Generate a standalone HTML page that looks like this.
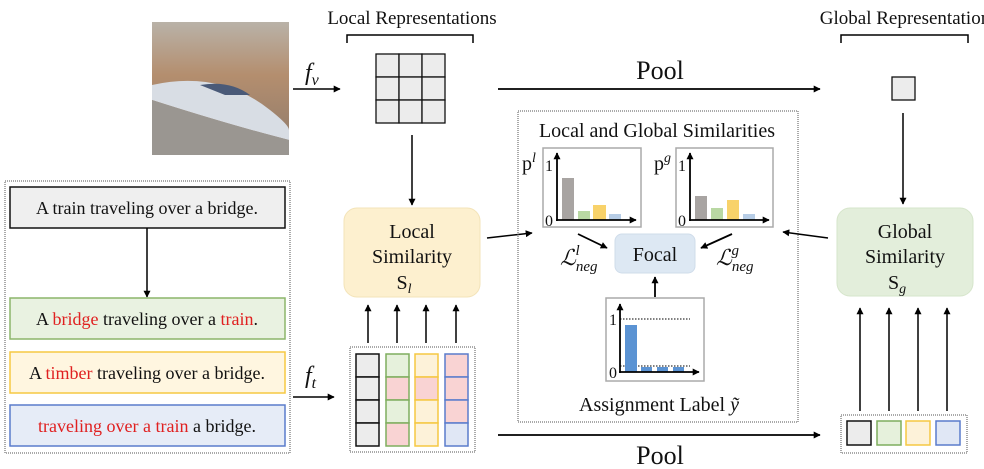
<!DOCTYPE html>
<html><head><meta charset="utf-8"><style>body{margin:0;background:#fff}svg{display:block}text{font-family:"Liberation Serif",serif;fill:#111}</style></head>
<body>
<svg width="984" height="469" viewBox="0 0 984 469" xmlns="http://www.w3.org/2000/svg">
<defs>
<marker id="a" viewBox="0 0 10 10" refX="9" refY="5" markerWidth="7" markerHeight="7" orient="auto-start-reverse" markerUnits="userSpaceOnUse"><path d="M0,0L10,5L0,10z" fill="#000"/></marker>
<linearGradient id="sky" x1="0" y1="0" x2="0" y2="1"><stop offset="0" stop-color="#b9b2a8"/><stop offset="0.4" stop-color="#b48e6e"/><stop offset="1" stop-color="#8c7a6c"/></linearGradient>
</defs>
<rect x="152" y="22" width="137" height="133" fill="url(#sky)"/>
<path d="M152,85 Q220,70 270,110 Q289,125 289,130 L289,140 Q230,125 152,100z" fill="#d8dde4"/>
<path d="M152,100 Q230,125 289,140 L289,155 L152,155z" fill="#9a9691"/>
<path d="M200,85 Q230,80 250,95 L225,95z" fill="#4a5a78"/>
<rect x="5" y="181" width="285" height="272" fill="none" stroke="#555" stroke-dasharray="1,1"/>
<rect x="10" y="187" width="275" height="41" fill="#efefef" stroke="#111" stroke-width="1.5"/>
<text x="147" y="214" font-size="18" text-anchor="middle">A train traveling over a bridge.</text>
<line x1="147" y1="228" x2="147" y2="297" stroke="#000" stroke-width="1.5" marker-end="url(#a)"/>
<rect x="10" y="298" width="275" height="41" fill="#e9f2e1" stroke="#8cb56a" stroke-width="1.5"/>
<text x="147" y="325" font-size="18" text-anchor="middle">A <tspan fill="#e02020">bridge</tspan> traveling over a <tspan fill="#e02020">train</tspan>.</text>
<rect x="10" y="352" width="275" height="41" fill="#fff6e0" stroke="#f5c842" stroke-width="1.5"/>
<text x="147" y="379" font-size="18" text-anchor="middle">A <tspan fill="#e02020">timber</tspan> traveling over a bridge.</text>
<rect x="10" y="405" width="275" height="41" fill="#e6ecf7" stroke="#5a7ccc" stroke-width="1.5"/>
<text x="147" y="432" font-size="18" text-anchor="middle"><tspan fill="#e02020">traveling over a train</tspan> a bridge.</text>
<text x="305" y="80" font-size="24" font-style="italic">f<tspan font-size="16" dy="5">v</tspan></text>
<line x1="293" y1="89" x2="340" y2="89" stroke="#000" stroke-width="1.5" marker-end="url(#a)"/>
<text x="305" y="383" font-size="24" font-style="italic">f<tspan font-size="16" dy="5">t</tspan></text>
<line x1="293" y1="397" x2="334" y2="397" stroke="#000" stroke-width="1.5" marker-end="url(#a)"/>
<text x="412" y="24" font-size="19" text-anchor="middle">Local Representations</text>
<path d="M347,43V35H473V43" fill="none" stroke="#000" stroke-width="1.5"/>
<g fill="#ececec" stroke="#111" stroke-width="1.3">
<rect x="376" y="54" width="23" height="23"/><rect x="399" y="54" width="23" height="23"/><rect x="422" y="54" width="23" height="23"/>
<rect x="376" y="77" width="23" height="23"/><rect x="399" y="77" width="23" height="23"/><rect x="422" y="77" width="23" height="23"/>
<rect x="376" y="100" width="23" height="23"/><rect x="399" y="100" width="23" height="23"/><rect x="422" y="100" width="23" height="23"/>
</g>
<line x1="412" y1="135" x2="412" y2="205" stroke="#000" stroke-width="1.5" marker-end="url(#a)"/>
<rect x="344" y="208" width="136" height="89" rx="13" fill="#fdf0cf" stroke="#f3e3b8"/>
<text x="412" y="238" font-size="20" text-anchor="middle">Local</text>
<text x="412" y="263" font-size="20" text-anchor="middle">Similarity</text>
<text x="404" y="289" font-size="20" text-anchor="middle">S<tspan font-style="italic" font-size="14" dy="4">l</tspan></text>
<line x1="487" y1="238" x2="532" y2="233" stroke="#000" stroke-width="1.5" marker-end="url(#a)"/>
<rect x="350" y="347" width="125" height="105" fill="none" stroke="#555" stroke-dasharray="1,1"/>
<g stroke-width="1.5">
<g stroke="#111"><rect x="356" y="354" width="23" height="23" fill="#ececec"/><rect x="356" y="377" width="23" height="23" fill="#ececec"/><rect x="356" y="400" width="23" height="23" fill="#ececec"/><rect x="356" y="423" width="23" height="23" fill="#ececec"/></g>
<g stroke="#7fae5e"><rect x="386" y="354" width="23" height="23" fill="#e6f1dc"/><rect x="386" y="377" width="23" height="23" fill="#f9d3d3"/><rect x="386" y="400" width="23" height="23" fill="#e6f1dc"/><rect x="386" y="423" width="23" height="23" fill="#f9d3d3"/></g>
<g stroke="#f5c842"><rect x="415" y="354" width="23" height="23" fill="#fdf2d9"/><rect x="415" y="377" width="23" height="23" fill="#f9d3d3"/><rect x="415" y="400" width="23" height="23" fill="#fdf2d9"/><rect x="415" y="423" width="23" height="23" fill="#fdf2d9"/></g>
<g stroke="#5a7ccc"><rect x="445" y="354" width="23" height="23" fill="#f9d3d3"/><rect x="445" y="377" width="23" height="23" fill="#f9d3d3"/><rect x="445" y="400" width="23" height="23" fill="#f9d3d3"/><rect x="445" y="423" width="23" height="23" fill="#e0e7f5"/></g>
</g>
<g stroke="#000" stroke-width="1.5" marker-end="url(#a)">
<line x1="368" y1="343" x2="368" y2="305"/><line x1="397" y1="343" x2="397" y2="305"/><line x1="426" y1="343" x2="426" y2="305"/><line x1="456" y1="343" x2="456" y2="305"/>
</g>
<line x1="498" y1="89" x2="820" y2="89" stroke="#000" stroke-width="1.8" marker-end="url(#a)"/>
<text x="660" y="79" font-size="26" text-anchor="middle">Pool</text>
<line x1="498" y1="435" x2="820" y2="435" stroke="#000" stroke-width="1.8" marker-end="url(#a)"/>
<text x="660" y="464" font-size="26" text-anchor="middle">Pool</text>
<rect x="518" y="111" width="280" height="311" fill="none" stroke="#555" stroke-dasharray="1,1"/>
<text x="657" y="137" font-size="20" text-anchor="middle">Local and Global Similarities</text>
<text x="522" y="170" font-size="20">p<tspan font-style="italic" font-size="14" dy="-8">l</tspan></text>
<rect x="543" y="148" width="98" height="79" fill="#fff" stroke="#aaa" stroke-width="1.5"/>
<rect x="562" y="178" width="12" height="42" fill="#a8a4a2"/><rect x="578" y="211" width="12" height="9" fill="#b9d8a3"/><rect x="593" y="205" width="13" height="15" fill="#f8d26a"/><rect x="609" y="214" width="12" height="6" fill="#b7cde6"/>
<line x1="557" y1="221" x2="557" y2="153" stroke="#000" stroke-width="1.8" marker-end="url(#a)"/>
<line x1="556" y1="220" x2="636" y2="220" stroke="#000" stroke-width="1.8" marker-end="url(#a)"/>
<text x="545" y="171" font-size="16">1</text><text x="545" y="226" font-size="16">0</text>
<text x="654" y="170" font-size="20">p<tspan font-style="italic" font-size="14" dy="-8">g</tspan></text>
<rect x="676" y="148" width="97" height="79" fill="#fff" stroke="#aaa" stroke-width="1.5"/>
<rect x="695" y="196" width="12" height="24" fill="#a8a4a2"/><rect x="711" y="208" width="12" height="12" fill="#b9d8a3"/><rect x="727" y="200" width="12" height="20" fill="#f8d26a"/><rect x="743" y="214" width="12" height="6" fill="#b7cde6"/>
<line x1="690" y1="221" x2="690" y2="153" stroke="#000" stroke-width="1.8" marker-end="url(#a)"/>
<line x1="689" y1="220" x2="769" y2="220" stroke="#000" stroke-width="1.8" marker-end="url(#a)"/>
<text x="678" y="171" font-size="16">1</text><text x="678" y="226" font-size="16">0</text>
<line x1="578" y1="234" x2="607" y2="248" stroke="#000" stroke-width="1.8" marker-end="url(#a)"/>
<line x1="732" y1="234" x2="701" y2="248" stroke="#000" stroke-width="1.8" marker-end="url(#a)"/>
<rect x="615" y="234" width="80" height="39" rx="7" fill="#dde8f3" stroke="#cfdcea"/>
<text x="655" y="261" font-size="20" text-anchor="middle">Focal</text>
<text x="560" y="265" font-size="22" font-style="italic">ℒ<tspan font-size="15" dy="6">neg</tspan><tspan font-size="15" dx="-22" dy="-16">l</tspan></text>
<text x="716" y="265" font-size="22" font-style="italic">ℒ<tspan font-size="15" dy="6">neg</tspan><tspan font-size="15" dx="-22" dy="-16">g</tspan></text>
<line x1="655" y1="297" x2="655" y2="277" stroke="#000" stroke-width="1.8" marker-end="url(#a)"/>
<rect x="606" y="298" width="98" height="83" fill="#fff" stroke="#aaa" stroke-width="1.5"/>
<line x1="620" y1="319" x2="690" y2="319" stroke="#000" stroke-dasharray="1.5,1.5"/>
<line x1="620" y1="366" x2="690" y2="366" stroke="#000" stroke-dasharray="1.5,1.5"/>
<rect x="625" y="325" width="12" height="47" fill="#5b93d3"/><rect x="641" y="367" width="11" height="5" fill="#5b93d3"/><rect x="657" y="367" width="11" height="5" fill="#5b93d3"/><rect x="673" y="367" width="11" height="5" fill="#5b93d3"/>
<line x1="620" y1="373" x2="620" y2="304" stroke="#000" stroke-width="1.8" marker-end="url(#a)"/>
<line x1="619" y1="372" x2="699" y2="372" stroke="#000" stroke-width="1.8" marker-end="url(#a)"/>
<text x="609" y="325" font-size="16">1</text><text x="609" y="378" font-size="16">0</text>
<text x="659" y="411" font-size="20" text-anchor="middle">Assignment Label <tspan font-style="italic">ỹ</tspan></text>
<text x="905" y="24" font-size="19" text-anchor="middle">Global Representation</text>
<path d="M841,43V35H968V43" fill="none" stroke="#000" stroke-width="1.5"/>
<rect x="892" y="77" width="23" height="23" fill="#ececec" stroke="#111" stroke-width="1.3"/>
<line x1="903" y1="113" x2="903" y2="204" stroke="#000" stroke-width="1.5" marker-end="url(#a)"/>
<rect x="837" y="208" width="136" height="88" rx="13" fill="#e3eedb" stroke="#d6e5cb"/>
<text x="905" y="238" font-size="20" text-anchor="middle">Global</text>
<text x="905" y="263" font-size="20" text-anchor="middle">Similarity</text>
<text x="897" y="289" font-size="20" text-anchor="middle">S<tspan font-style="italic" font-size="14" dy="4">g</tspan></text>
<line x1="828" y1="238" x2="783" y2="232" stroke="#000" stroke-width="1.5" marker-end="url(#a)"/>
<rect x="841" y="415" width="126" height="38" fill="none" stroke="#555" stroke-dasharray="1,1"/>
<rect x="847" y="421" width="24" height="24" fill="#ececec" stroke="#111" stroke-width="1.5"/>
<rect x="877" y="421" width="24" height="24" fill="#e6f1dc" stroke="#7fae5e" stroke-width="1.5"/>
<rect x="906" y="421" width="24" height="24" fill="#fdf2d9" stroke="#f5c842" stroke-width="1.5"/>
<rect x="936" y="421" width="24" height="24" fill="#e0e7f5" stroke="#5a7ccc" stroke-width="1.5"/>
<g stroke="#000" stroke-width="1.5" marker-end="url(#a)">
<line x1="860" y1="411" x2="860" y2="308"/><line x1="889" y1="411" x2="889" y2="308"/><line x1="918" y1="411" x2="918" y2="308"/><line x1="947" y1="411" x2="947" y2="308"/>
</g>
</svg>
</body></html>
